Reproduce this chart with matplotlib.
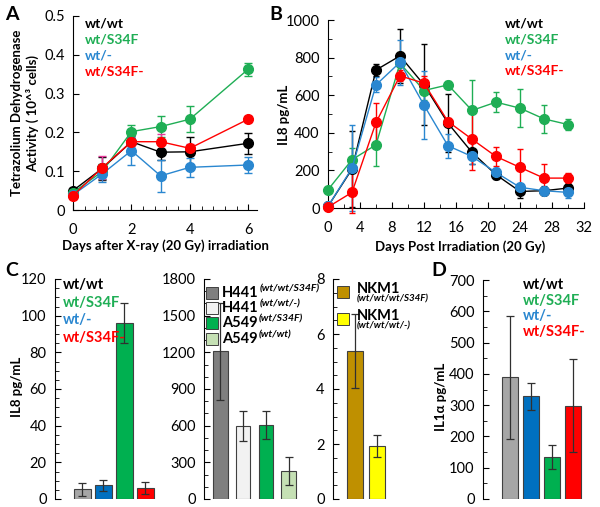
import matplotlib
matplotlib.use("Agg")
import matplotlib.pyplot as plt
from matplotlib.ticker import MultipleLocator

plt.rcParams['font.family'] = ['Lato', 'DejaVu Sans']
plt.rcParams['font.size'] = 10

W, H = 600, 507

# ---- dados ----
genotypes = ['wt/wt', 'wt/S34F', 'wt/-', 'wt/S34F-']
line_colors = ['black', '#1fae55', '#2a87d0', '#ff0000']
bar_colors = ['#a6a6a6', '#0070c0', '#00b050', '#ff0000']

# Painel A
days_a = [0, 1, 2, 3, 4, 6]
a_wtwt = [0.050, 0.107, 0.176, 0.149, 0.150, 0.172]
a_wtwt_err = [0.006, 0.030, 0.015, 0.020, 0.038, 0.027]
a_s34f = [0.045, 0.099, 0.202, 0.215, 0.234, 0.363]
a_s34f_err = [0.005, 0.020, 0.017, 0.026, 0.033, 0.017]
a_del = [0.039, 0.093, 0.153, 0.088, 0.110, 0.116]
a_del_err = [0.005, 0.022, 0.036, 0.042, 0.025, 0.021]
a_s34fdel = [0.037, 0.109, 0.176, 0.176, 0.159, 0.234]
a_s34fdel_err = [0.008, 0.030, 0.015, 0.020, 0.010, 0.007]

# Painel B
days_b = [0, 3, 6, 9, 12, 15, 18, 21, 24, 27, 30]
b_wtwt = [9, 207, 734, 809, 655, 451, 296, 177, 88, 92, 106]
b_wtwt_err = [5, 200, 30, 144, 215, 153, 60, 25, 35, 20, 20]
b_s34f = [97, 257, 336, 770, 625, 655, 519, 563, 531, 474, 444]
b_s34f_err = [10, 60, 110, 60, 50, 20, 163, 53, 100, 73, 30]
b_del = [9, 212, 655, 775, 547, 331, 274, 189, 110, 92, 83]
b_del_err = [5, 230, 40, 120, 180, 65, 40, 25, 20, 25, 30]
b_s34fdel = [5, 83, 455, 703, 664, 460, 366, 274, 216, 159, 159]
b_s34fdel_err = [5, 110, 103, 30, 40, 20, 166, 53, 100, 75, 27]

# Painel C
c1_vals = [5.3, 7.5, 96, 6.0]
c1_err = [3.5, 3.0, 11, 3.3]
c2_names = ['H441', 'H441', 'A549', 'A549']
c2_sup = ['(wt/wt/S34F)', '(wt/wt/-)', '(wt/S34F)', '(wt/wt)']
c2_vals = [1207, 598, 607, 230]
c2_err = [397, 126, 115, 113]
c2_colors = ['#7f7f7f', '#f2f2f2', '#00b050', '#c5e0b4']
c3_names = ['NKM1', 'NKM1']
c3_sub = ['(wt/wt/wt/S34F)', '(wt/wt/wt/-)']
c3_vals = [5.39, 1.94]
c3_err = [1.34, 0.40]
c3_colors = ['#bf9000', '#ffff00']

# Painel D
d_vals = [389, 329, 135, 298]
d_err = [196, 43, 39, 149]


def box(l, t, r, b):
    return [l / W, 1 - b / H, (r - l) / W, (b - t) / H]


def fx(x, y):
    return x / W, 1 - y / H


fig = plt.figure(figsize=(6, 5.07), dpi=100)

# ---- A ----
axA = fig.add_axes(box(73, 16, 257, 210))
a_series = [(a_wtwt, a_wtwt_err), (a_s34f, a_s34f_err), (a_del, a_del_err), (a_s34fdel, a_s34fdel_err)]
a_errc = ['black', '#1fae55', '#2a87d0', '#e5399a']
for (v, e), c, ec in zip(a_series, line_colors, a_errc):
    axA.errorbar(days_a, v, yerr=e, color=c, ecolor=ec, lw=1, elinewidth=1, capsize=3,
                 marker='o', ms=7, clip_on=False, zorder=3)
axA.set_xlim(0, 6.3)
axA.set_ylim(0, 0.5)
axA.xaxis.set_major_locator(MultipleLocator(2))
axA.xaxis.set_minor_locator(MultipleLocator(0.4))
axA.set_yticks([0, 0.1, 0.2, 0.3, 0.4, 0.5], ['0', '0.1', '0.2', '0.3', '0.4', '0.5'])
for i, (g, c) in enumerate(zip(genotypes, line_colors)):
    fig.text(*fx(85, 24 + 15.8 * i), g, color=c, fontweight='bold', va='center', fontsize=10)
fig.text(*fx(165, 246), 'Days after X-ray (20 Gy) irradiation', ha='center', va='center',
         fontweight='bold', fontsize=9.5)
fig.text(*fx(25, 113), 'Tetrazolium Dehydrogenase\nActivity ( 10^³ cells)', rotation=90,
         ha='center', va='center', multialignment='center', fontweight='bold', fontsize=9.5,
         linespacing=1.25)

# ---- B ----
axB = fig.add_axes(box(328, 20, 584, 208))
b_series = [(b_wtwt, b_wtwt_err), (b_s34f, b_s34f_err), (b_del, b_del_err), (b_s34fdel, b_s34fdel_err)]
for (v, e), c in zip(b_series, line_colors):
    axB.errorbar(days_b, v, yerr=e, color=c, lw=1, elinewidth=1, capsize=2.5,
                 marker='o', ms=7, clip_on=False, zorder=3)
axB.set_xlim(0, 32)
axB.set_ylim(0, 1000)
axB.xaxis.set_major_locator(MultipleLocator(4))
axB.xaxis.set_minor_locator(MultipleLocator(2))
axB.yaxis.set_major_locator(MultipleLocator(200))
axB.yaxis.set_minor_locator(MultipleLocator(100))
for i, (g, c) in enumerate(zip(genotypes, line_colors)):
    fig.text(*fx(505, 24 + 15.5 * i), g, color=c, fontweight='bold', va='center', fontsize=10)
fig.text(*fx(460, 247), 'Days Post Irradiation (20 Gy)', ha='center', va='center',
         fontweight='bold', fontsize=9.5)
fig.text(*fx(284, 115), 'IL8 pg/mL', rotation=90, ha='center', va='center',
         fontweight='bold', fontsize=9.5)

for ax in (axA, axB):
    ax.spines[['top', 'right']].set_visible(False)
    ax.tick_params(which='both', direction='in', labelsize=10.5)
    ax.tick_params(which='major', length=4, pad=6)
    ax.tick_params(which='minor', length=3)
    ax.tick_params(axis='x', which='major', pad=9)

# ---- C ----
bar_kw = dict(edgecolor='#404040', linewidth=0.8, capsize=3,
              error_kw=dict(elinewidth=0.9, capthick=0.9, ecolor='#303030'))

axC1 = fig.add_axes(box(55, 279, 160, 499))
axC1.bar(range(4), c1_vals, width=0.8, yerr=c1_err, color=bar_colors, **bar_kw)
axC1.set_xlim(-1.3, 3.7)
axC1.set_ylim(0, 120)
axC1.yaxis.set_major_locator(MultipleLocator(20))
axC1.yaxis.set_minor_locator(MultipleLocator(5))
for i, (g, c) in enumerate(zip(genotypes, line_colors)):
    fig.text(*fx(63, 285 + 17.7 * i), g, color=c, fontweight='bold', va='center', fontsize=10.5)
fig.text(*fx(17, 387), 'IL8 pg/mL', rotation=90, ha='center', va='center',
         fontweight='bold', fontsize=9.5)

axC2 = fig.add_axes(box(204, 279, 305, 499))
axC2.bar(range(4), c2_vals, width=0.65, yerr=c2_err, color=c2_colors, **bar_kw)
axC2.set_xlim(-0.7, 3.7)
axC2.set_ylim(0, 1800)
axC2.yaxis.set_major_locator(MultipleLocator(300))
axC2.yaxis.set_minor_locator(MultipleLocator(100))

axC3 = fig.add_axes(box(333, 279, 395, 499))
axC3.bar(range(2), c3_vals, width=0.73, yerr=c3_err, color=c3_colors, **bar_kw)
axC3.set_xlim(-1.0, 1.8)
axC3.set_ylim(0, 8)
axC3.yaxis.set_major_locator(MultipleLocator(2))
axC3.yaxis.set_minor_locator(MultipleLocator(0.5))

# ---- D ----
axD = fig.add_axes(box(483, 280, 590, 499))
axD.bar(range(4), d_vals, width=0.78, yerr=d_err, color=bar_colors, **bar_kw)
axD.set_xlim(-1.28, 3.8)
axD.set_ylim(0, 700)
axD.yaxis.set_major_locator(MultipleLocator(100))
axD.yaxis.set_minor_locator(MultipleLocator(50))
for i, (g, c) in enumerate(zip(genotypes, line_colors)):
    fig.text(*fx(523, 285 + 15.6 * i), g, color=c, fontweight='bold', va='center', fontsize=10.5)
fig.text(*fx(441, 397), 'IL1α pg/mL', rotation=90, ha='center', va='center',
         fontweight='bold', fontsize=9.5)

for ax in (axC1, axC2, axC3, axD):
    ax.spines[['top', 'right', 'bottom']].set_visible(False)
    ax.set_xticks([])
    ax.tick_params(which='both', direction='in', labelsize=10.5)
    ax.tick_params(which='major', length=4, pad=6)
    ax.tick_params(which='minor', length=3)

# legendas com quadrados (C2, C3)
renderer = fig.canvas.get_renderer()
for i, (n, s, c) in enumerate(zip(c2_names, c2_sup, c2_colors)):
    y = 293 + 15.2 * i
    fig.lines.append(plt.Line2D([212 / W], [1 - y / H], marker='s', ms=8, mfc=c, mec='#404040',
                                mew=0.7, transform=fig.transFigure, figure=fig))
    t = fig.text(*fx(222, y), n, fontweight='bold', va='center', fontsize=10.5)
    bb = t.get_window_extent(renderer)
    fig.text(bb.x1 / W + 1 / W, 1 - (y - 4) / H, s, fontstyle='italic', fontweight='bold',
             va='center', fontsize=7.5)

for i, (n, s, c) in enumerate(zip(c3_names, c3_sub, c3_colors)):
    y = 292 + 26.5 * i
    fig.lines.append(plt.Line2D([343 / W], [1 - y / H], marker='s', ms=8, mfc=c, mec='#404040',
                                mew=0.7, transform=fig.transFigure, figure=fig))
    fig.text(*fx(357, y - 3), n, fontweight='bold', va='center', fontsize=10.5)
    fig.text(*fx(357, y + 7), s, fontstyle='italic', fontweight='bold', va='center', fontsize=7)

# letras dos painéis
for letter, (x, y) in zip('ABCD', [(12, 14), (276, 14), (12, 270), (439, 270)]):
    fig.text(*fx(x, y), letter, fontweight='bold', fontsize=14, ha='center', va='center')

fig.savefig('out.png', dpi=100)
